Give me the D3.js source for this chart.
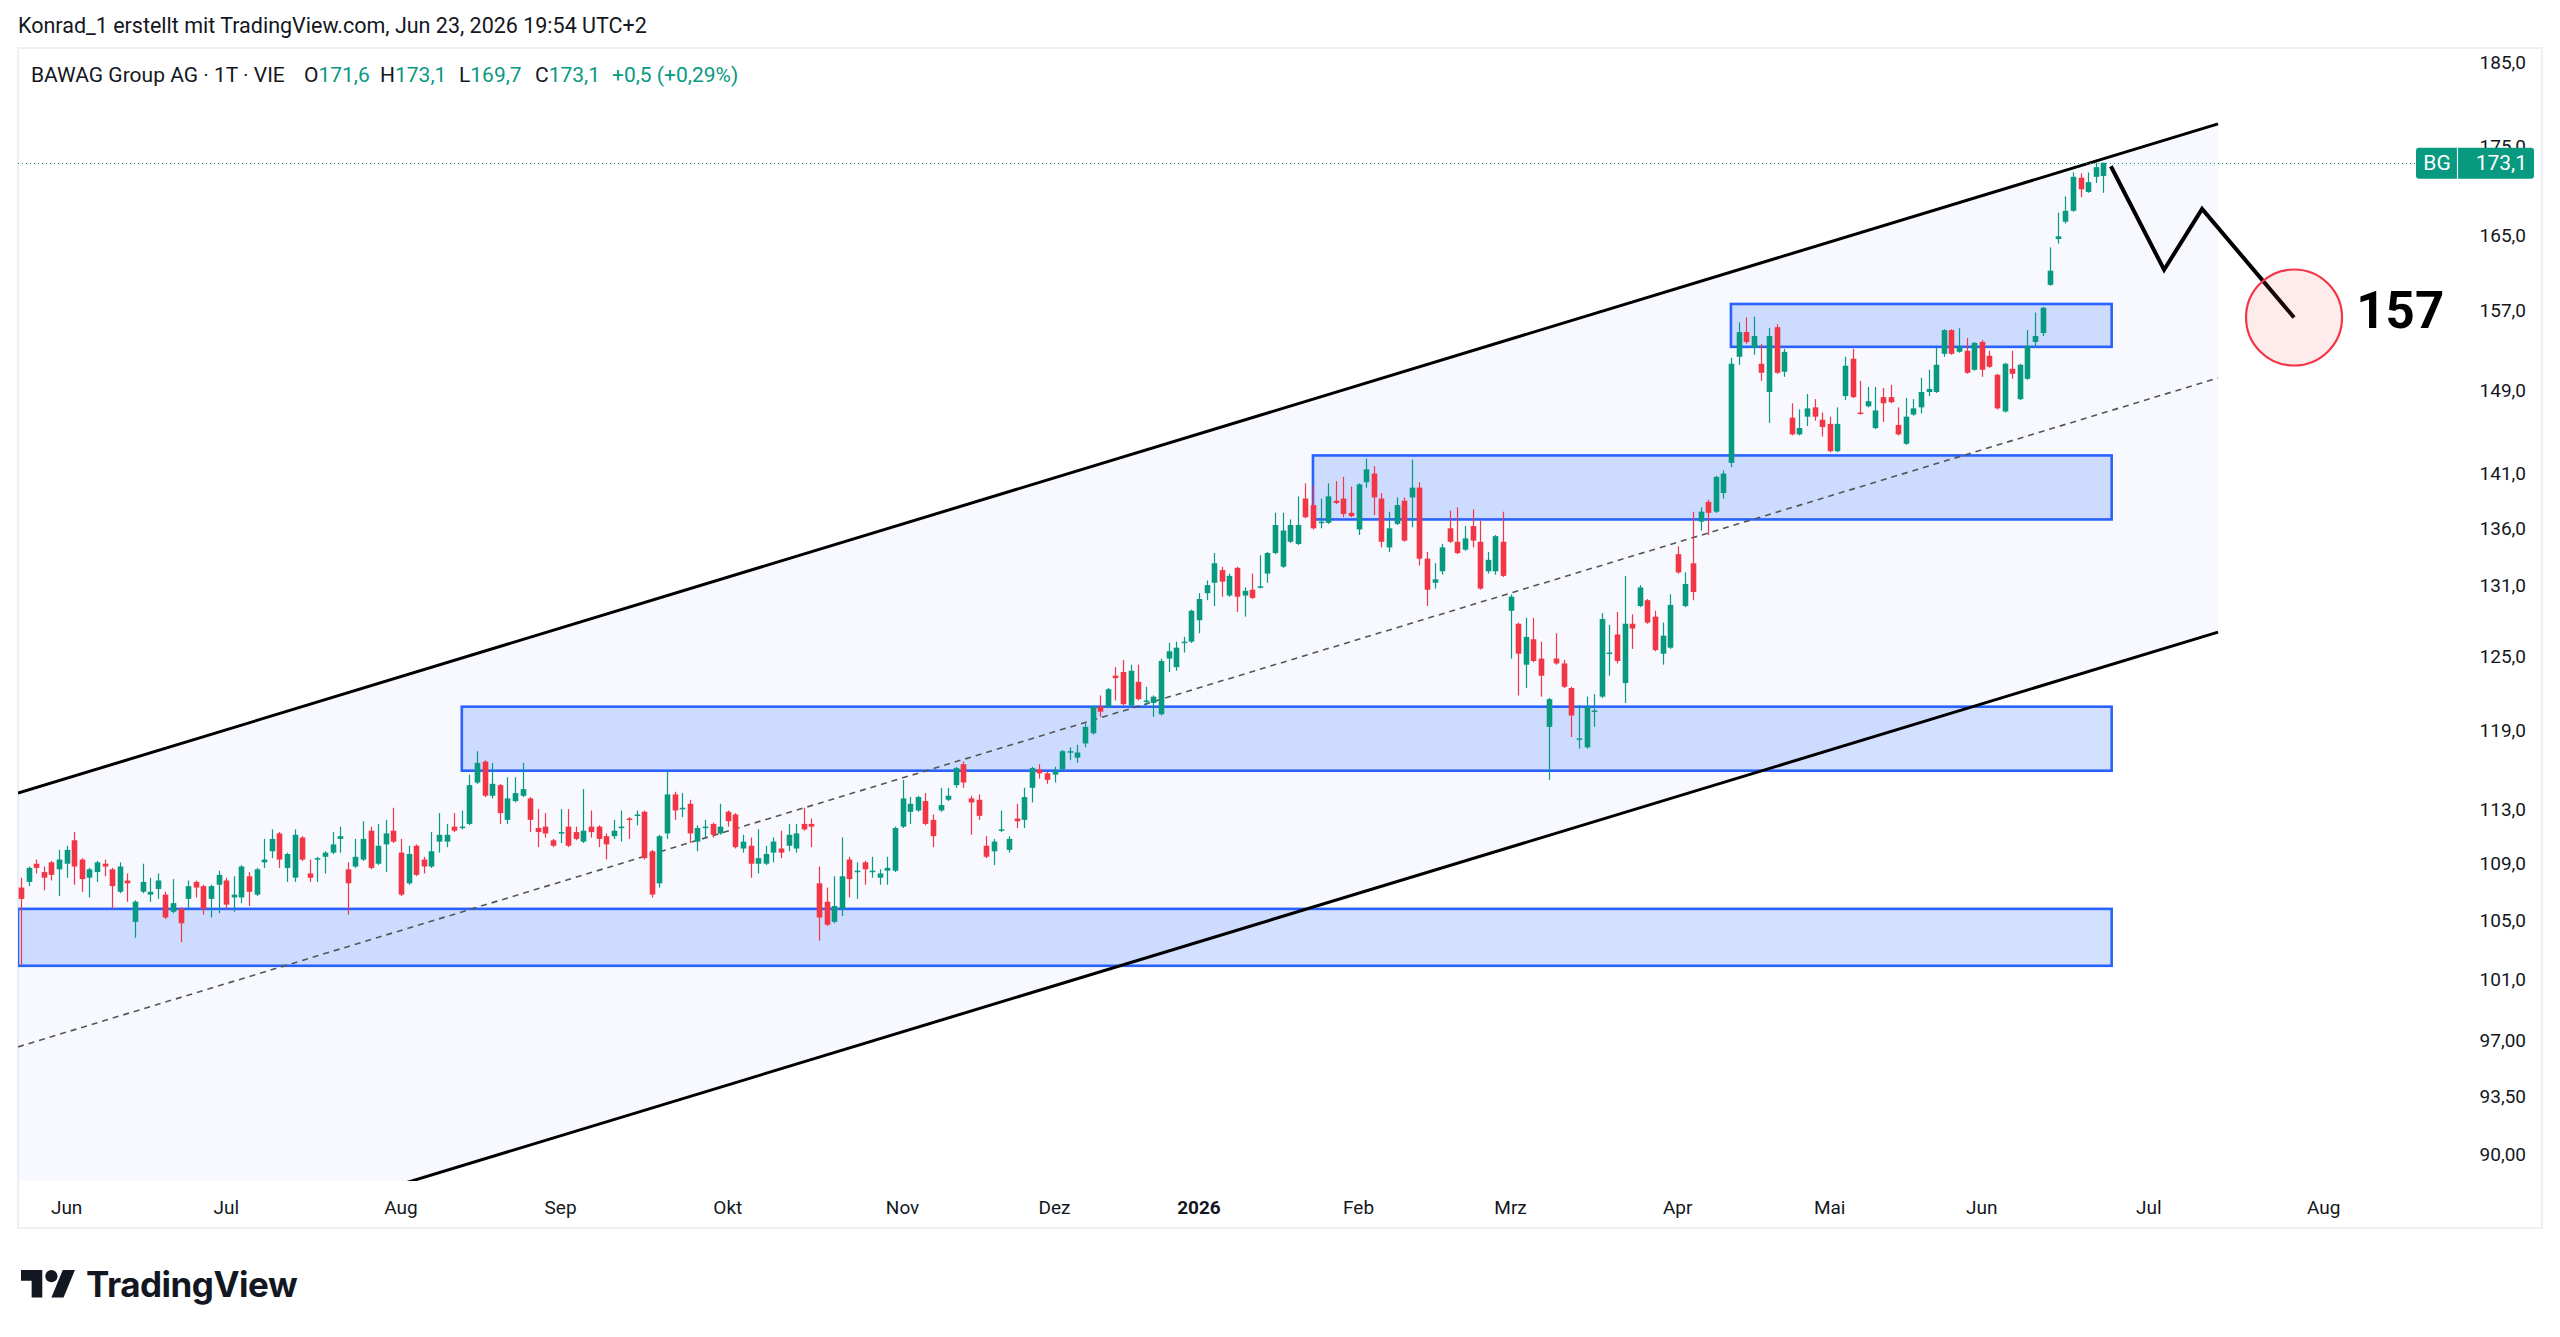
<!DOCTYPE html>
<html><head><meta charset="utf-8">
<script src="https://cdn.jsdelivr.net/npm/d3@7"></script>
<style>
body{margin:0;background:#fff;}
svg{display:block;}
text{font-family:"Trebuchet MS",Roboto,"Noto Sans",sans-serif;}
</style>
</head><body>
<svg id="chart" width="2560" height="1337"></svg>
<script>
// ---------------- DATA ----------------
const startDate = "2025-05-23";
const holidays = ["2025-12-24","2025-12-25","2025-12-26","2025-12-31","2026-01-01","2026-04-03","2026-04-06","2026-05-01"];

const open = [107.3,107.7,109.0,108.4,109.1,108.6,109.0,110.7,109.3,108.0,108.4,109.0,108.6,107.0,107.8,104.9,107.0,106.8,107.2,106.8,
105.6,105.8,106.5,107.7,107.4,106.5,107.5,107.8,106.6,106.6,108.1,106.8,109.1,109.9,111.2,108.7,108.0,110.9,108.3,109.3,
109.5,109.8,110.8,108.6,108.8,109.3,111.4,109.0,110.4,111.4,109.8,107.6,110.3,109.3,108.8,110.6,110.6,111.7,111.6,111.9,
115.0,116.6,114.0,114.8,112.2,113.6,114.0,113.8,111.6,111.7,110.7,111.2,111.7,111.3,110.6,111.7,111.7,111.0,111.0,111.6,
112.3,112.5,112.8,109.9,107.6,111.2,114.1,113.0,113.4,110.6,111.6,111.9,111.2,112.8,112.6,110.1,110.3,109.0,109.0,109.8,
110.1,110.3,110.1,111.9,111.9,107.6,106.3,104.9,105.8,109.3,108.4,109.1,108.4,108.0,108.5,108.5,111.7,112.8,112.9,113.6,
112.2,112.9,113.7,114.8,116.4,113.8,113.7,110.3,109.9,111.4,110.0,112.3,112.2,114.6,116.0,115.7,115.6,116.0,117.3,116.9,
118.0,118.8,120.9,120.9,123.4,123.7,121.0,122.9,121.3,121.2,120.3,124.8,124.1,126.1,126.2,128.0,130.3,131.2,132.3,130.1,
132.5,130.1,130.6,130.8,132.0,133.8,132.6,134.8,134.6,138.7,138.1,136.5,136.5,138.5,138.7,137.4,135.9,140.2,141.0,138.7,
134.3,136.4,138.5,138.8,139.7,133.3,131.2,132.2,136.0,134.8,134.1,136.2,134.8,132.2,132.2,134.8,128.8,127.7,124.3,126.4,
124.8,119.3,124.8,124.4,122.4,118.3,117.7,120.5,121.7,125.2,126.8,122.8,127.7,129.2,129.7,128.3,125.2,125.7,133.7,129.2,
132.9,136.6,138.4,137.5,139.2,142.0,152.3,154.8,153.2,151.6,148.8,155.3,150.8,146.3,144.7,146.4,147.3,146.1,145.7,143.1,
148.4,152.1,146.8,147.4,145.3,148.3,148.3,145.6,143.8,146.6,147.3,148.8,148.8,152.6,155.0,152.8,152.9,151.0,153.8,152.4,
150.5,146.9,151.1,148.1,150.1,153.8,154.7,159.7,164.6,166.5,167.7,171.4,169.8,171.5,171.6];
const high = [108.0,108.8,109.3,108.8,109.2,110.0,110.3,111.3,109.4,108.7,109.2,109.3,108.7,109.1,108.3,106.4,109.0,108.0,108.3,107.0,
107.9,105.9,107.8,107.8,107.5,107.5,108.5,108.0,108.1,108.9,108.4,108.7,110.8,111.5,111.3,109.8,111.5,111.0,109.3,109.5,
109.9,111.3,111.7,109.1,110.8,112.1,111.7,111.9,112.2,113.1,110.8,110.3,110.4,109.5,111.3,112.7,111.9,112.7,112.9,115.6,
117.4,116.7,116.5,114.9,115.4,115.4,116.5,113.9,113.0,112.7,110.8,113.0,113.0,111.7,114.5,112.9,111.8,111.2,112.2,112.9,
112.4,112.9,112.9,110.0,111.1,115.9,114.3,114.2,113.7,111.8,112.2,112.0,113.4,112.9,112.7,111.1,110.9,111.5,110.3,110.9,
111.4,111.9,111.9,113.1,112.3,108.8,107.3,108.1,110.9,109.5,109.1,109.2,109.5,108.6,109.5,111.7,115.2,113.9,114.0,114.2,
112.6,114.6,114.6,116.2,116.6,114.0,114.1,111.0,110.8,112.9,111.0,113.4,114.6,116.2,116.4,115.8,116.2,117.5,117.7,117.9,
119.6,121.0,121.8,122.4,124.1,124.7,124.3,124.3,122.5,121.8,124.8,126.1,126.2,126.6,128.9,130.3,131.4,133.8,132.6,132.0,
132.6,130.8,132.0,133.6,133.9,137.4,137.4,136.8,138.9,140.1,139.9,138.7,140.1,140.3,140.7,139.8,140.1,142.4,141.7,139.2,
137.5,138.8,138.8,142.3,140.2,133.9,132.9,134.6,137.6,137.9,136.2,137.7,136.7,133.9,135.4,137.5,130.2,127.8,128.2,128.2,
126.2,121.6,126.9,124.7,122.5,121.0,121.7,121.9,128.6,127.6,128.7,131.8,128.5,131.0,129.8,128.8,127.8,130.2,134.4,132.1,
137.5,137.9,138.6,140.8,141.3,152.2,155.8,156.3,156.4,153.6,155.2,155.6,153.1,147.7,147.1,148.6,148.1,146.8,146.4,147.3,
152.3,153.1,149.9,149.3,149.3,149.2,149.5,147.3,148.2,148.1,150.2,151.0,153.2,155.1,155.1,155.2,154.2,153.8,154.0,152.9,
150.6,151.7,152.9,151.6,155.0,156.8,157.4,163.7,167.5,169.3,172.0,171.9,172.0,173.1,173.1];
const low = [101.9,107.4,108.3,107.1,107.8,106.7,108.0,107.5,107.0,106.6,107.7,108.1,105.8,106.9,106.3,103.8,106.9,106.3,106.5,105.1,
105.5,103.5,105.8,106.6,105.4,105.2,105.5,105.8,105.6,106.2,106.0,106.7,108.7,109.4,108.7,107.7,107.7,109.2,107.7,107.7,
108.3,109.7,109.8,105.4,108.7,109.2,108.6,108.9,108.4,110.5,106.7,107.5,108.1,108.3,108.7,109.8,110.2,111.3,111.5,111.8,
114.9,113.9,113.8,111.9,111.9,113.5,113.9,111.3,110.2,110.9,110.2,110.5,110.2,110.7,110.5,110.9,110.2,109.3,110.8,110.6,
110.8,111.8,109.3,106.6,107.3,110.8,112.2,112.4,110.5,109.9,110.9,110.9,111.1,111.7,110.1,109.8,108.0,108.3,108.9,109.1,
109.4,109.9,109.8,111.4,110.2,103.6,104.6,104.8,105.3,106.6,106.5,107.5,108.0,107.5,107.5,108.4,111.6,111.9,112.8,111.8,
110.2,112.8,113.6,114.6,114.6,111.1,112.2,109.4,108.9,111.3,109.8,111.6,111.6,113.5,115.3,114.9,115.0,115.9,116.7,116.5,
117.7,118.7,120.1,120.8,121.4,121.0,120.9,121.4,121.0,120.1,120.2,123.7,123.8,125.3,126.1,126.9,129.7,129.2,130.0,130.0,
128.7,128.3,129.8,130.7,131.2,133.7,132.5,134.7,134.5,136.9,135.9,136.0,136.4,138.2,137.0,137.0,135.4,139.7,137.2,134.3,
133.9,136.3,134.8,136.1,132.7,129.2,130.7,131.9,134.7,133.7,134.0,134.3,130.6,132.0,131.9,131.7,124.8,121.8,122.4,124.5,
121.7,115.2,124.3,122.4,118.5,117.6,117.6,119.3,121.6,123.4,124.4,121.2,125.6,129.1,127.7,125.4,124.3,125.6,132.0,129.1,
129.7,135.8,135.4,137.4,138.7,141.6,151.5,153.6,152.5,149.9,145.8,150.6,150.3,144.6,144.6,145.5,146.0,144.5,143.0,143.0,
148.0,148.2,146.6,147.3,145.2,145.9,147.7,144.6,143.7,146.5,146.7,148.4,148.7,152.3,152.5,152.7,150.6,150.9,150.3,151.2,
147.1,146.8,150.1,148.0,150.0,153.2,154.4,159.6,164.1,166.3,167.6,169.2,169.7,170.8,169.7];
const close = [106.5,108.7,108.7,108.0,108.2,109.3,110.0,108.8,107.9,108.6,109.1,108.8,107.4,108.8,107.6,106.3,107.7,107.0,107.8,105.2,
106.2,104.8,107.4,107.3,105.8,107.4,108.2,106.1,106.8,108.8,107.0,108.6,109.3,110.8,109.3,109.7,111.1,109.3,108.0,109.4,
109.8,110.4,111.0,107.6,109.5,110.8,108.7,110.3,111.2,110.6,106.8,109.7,108.2,108.8,109.9,111.1,111.1,111.4,111.7,114.8,
116.5,114.0,114.9,112.7,113.8,114.2,114.5,112.2,111.3,111.2,110.3,111.3,110.3,110.8,111.4,111.3,110.8,110.4,111.4,111.7,
112.2,112.6,109.4,106.8,111.0,114.1,112.9,113.1,111.2,111.6,111.7,111.1,111.7,112.1,110.2,110.6,109.0,109.4,109.7,110.6,
109.8,111.1,111.2,111.5,111.7,105.2,104.7,106.0,108.1,107.9,108.5,108.6,108.5,108.3,108.7,111.6,113.8,113.4,113.9,111.9,
111.0,113.3,114.0,116.1,115.0,113.5,112.5,109.5,110.6,111.5,110.8,112.1,113.9,116.1,115.7,115.2,115.9,117.4,117.4,117.3,
119.3,120.9,120.5,122.3,123.2,121.1,123.8,121.5,121.4,121.7,124.6,125.4,125.7,126.2,128.8,129.8,131.0,132.9,131.3,131.8,
130.0,130.5,129.9,130.9,133.8,136.3,135.8,136.3,136.3,137.0,136.0,136.6,138.9,138.3,137.3,137.1,140.0,141.4,138.8,134.8,
136.0,138.1,134.9,139.7,133.3,130.6,131.5,134.3,134.8,133.8,135.1,134.9,130.7,133.2,135.3,131.8,130.0,125.2,126.6,124.6,
123.4,121.5,124.4,122.5,120.2,118.4,120.9,120.6,128.1,125.3,124.6,127.7,127.3,130.8,127.8,125.5,126.7,129.3,132.1,131.1,
130.4,137.5,137.4,140.7,141.0,151.6,154.8,153.8,154.4,150.7,154.4,150.7,152.8,144.7,145.3,147.2,146.4,145.4,143.1,145.7,
151.4,148.3,146.7,147.9,147.0,147.7,147.8,144.7,146.4,147.2,148.8,149.1,151.5,155.0,152.6,153.3,150.7,153.7,151.0,151.3,
147.2,151.6,150.6,151.5,153.4,154.4,157.3,161.2,164.9,167.7,171.5,170.1,170.9,172.6,173.1];

const monthTickDates  = ["2025-06-01","2025-07-01","2025-08-01","2025-09-01","2025-10-01","2025-11-01","2025-12-01","2026-01-01","2026-02-01","2026-03-01","2026-04-01","2026-05-01","2026-06-01","2026-07-01","2026-08-01"];
const monthTickLabels = ["Jun","Jul","Aug","Sep","Okt","Nov","Dez","2026","Feb","Mrz","Apr","Mai","Jun","Jul","Aug"];
const priceTicks      = [185,175,165,157,149,141,136,131,125,119,113,109,105,101,97,93.5,90];
const priceTickLabels = ["185,0","175,0","165,0","157,0","149,0","141,0","136,0","131,0","125,0","119,0","113,0","109,0","105,0","101,0","97,00","93,50","90,00"];

// drawings (bar index, price)
const channelIdx   = [-0.4, 289.1];
const channelUpper = [114.2, 177.6];
const channelLower = [81.7, 127.0];
const zoneStartIdx = [-0.4, 58.0, 170.0, 225.0];
const zoneEndIdx   = [275.1, 275.1, 275.1, 275.1];
const zoneTop      = [105.8, 120.9, 142.7, 157.7];
const zoneBottom   = [101.9, 115.9, 136.8, 153.3];
const pathIdx      = [275.0, 282.0, 287.0, 299.1];
const pathPrice    = [172.7, 161.3, 167.9, 156.3];
const targetIdx = 299.1, targetPrice = 156.3, targetLabel = "157", targetLabelIdx = 307.3;
const lastPrice = 173.1, symbol = "BG";

// ---------------- BUILD ----------------
function parseUTC(s){const [y,m,d]=s.split("-").map(Number);return new Date(Date.UTC(y,m-1,d));}
function fmt(d){return d.toISOString().slice(0,10);}
const hol = new Set(holidays);
const dates = [];
{ let d = parseUTC(startDate);
  while (dates.length < 330) {
    const wd = d.getUTCDay();
    if (wd !== 0 && wd !== 6 && !hol.has(fmt(d))) dates.push(new Date(d));
    d = new Date(d.getTime() + 86400000);
  }
}
const bars = open.map((o,i)=>({i, o, h:high[i], l:low[i], c:close[i]}));

const GREEN = "#089981", RED = "#f23645", TXT = "#131722";
const svg = d3.select("#chart");
const plot = {x0:18, x1:2462, y0:49, y1:1181};

const x = d3.scaleLinear().domain([-0.4, 321.2]).range([18, 2462]);
const y = d3.scaleLog().domain([90, 185]).range([1154, 62]);

svg.append("rect").attr("width",2560).attr("height",1337).attr("fill","#fff");
svg.append("defs").append("clipPath").attr("id","clip").append("rect")
  .attr("x",plot.x0).attr("y",plot.y0).attr("width",plot.x1-plot.x0).attr("height",plot.y1-plot.y0);

// frame
svg.append("rect").attr("x",18).attr("y",48).attr("width",2524).attr("height",1180)
  .attr("fill","none").attr("stroke","#eeeff2").attr("stroke-width",2);

const g = svg.append("g").attr("clip-path","url(#clip)");

// channel
const lnInterp = (a,b,t)=>Math.exp(Math.log(a)+(Math.log(b)-Math.log(a))*t);
const chanPts = [0,1].map(t=>({i:channelIdx[0]+(channelIdx[1]-channelIdx[0])*t, u:lnInterp(channelUpper[0],channelUpper[1],t), l:lnInterp(channelLower[0],channelLower[1],t)}));
g.append("path").attr("d", d3.line()([
   [x(chanPts[0].i), y(chanPts[0].u)], [x(chanPts[1].i), y(chanPts[1].u)],
   [x(chanPts[1].i), y(chanPts[1].l)], [x(chanPts[0].i), y(chanPts[0].l)]]) + "Z")
  .attr("fill","rgba(41,98,255,0.035)");

// zones
zoneTop.forEach((t,k)=>{
  g.append("rect").attr("x",x(zoneStartIdx[k])).attr("y",y(t))
   .attr("width",x(zoneEndIdx[k])-x(zoneStartIdx[k])).attr("height",y(zoneBottom[k])-y(t))
   .attr("fill","rgba(41,98,255,0.2)").attr("stroke","#2962ff").attr("stroke-width",2.6);
});

// midline
g.append("line")
  .attr("x1",x(chanPts[0].i)).attr("y1",y(Math.sqrt(chanPts[0].u*chanPts[0].l)))
  .attr("x2",x(chanPts[1].i)).attr("y2",y(Math.sqrt(chanPts[1].u*chanPts[1].l)))
  .attr("stroke","#555").attr("stroke-width",1.6).attr("stroke-dasharray","6,5");

// last price dotted line
svg.append("line").attr("x1",plot.x0).attr("x2",2416).attr("y1",Math.round(y(lastPrice))+0.5).attr("y2",Math.round(y(lastPrice))+0.5)
  .attr("stroke",GREEN).attr("stroke-width",1).attr("stroke-dasharray","1,3");

// candles
const bw = 5.6;
const cg = g.append("g");
cg.selectAll("line.wick").data(bars).join("line")
  .attr("x1",d=>Math.round(x(d.i))+0.5).attr("x2",d=>Math.round(x(d.i))+0.5)
  .attr("y1",d=>y(d.h)).attr("y2",d=>y(d.l))
  .attr("stroke",d=>d.c>=d.o?GREEN:RED).attr("stroke-width",1.2);
cg.selectAll("rect.body").data(bars).join("rect")
  .attr("x",d=>Math.round(x(d.i))+0.5-bw/2)
  .attr("y",d=>y(Math.max(d.o,d.c)))
  .attr("width",bw)
  .attr("height",d=>Math.max(1.5, y(Math.min(d.o,d.c))-y(Math.max(d.o,d.c))))
  .attr("fill",d=>d.c>=d.o?GREEN:RED);

// channel border lines
[channelUpper, channelLower].forEach(arr=>{
  g.append("line").attr("x1",x(channelIdx[0])).attr("y1",y(arr[0]))
   .attr("x2",x(channelIdx[1])).attr("y2",y(arr[1]))
   .attr("stroke","#000").attr("stroke-width",3);
});

// projection path
svg.append("path").attr("d", d3.line()(pathIdx.map((v,k)=>[x(v), y(pathPrice[k])])))
  .attr("fill","none").attr("stroke","#000").attr("stroke-width",4).attr("stroke-linejoin","miter");
svg.append("circle").attr("cx",x(targetIdx)).attr("cy",y(targetPrice)).attr("r",48)
  .attr("fill","rgba(242,54,69,0.1)").attr("stroke",RED).attr("stroke-width",2.2);
svg.append("text").attr("x",x(targetLabelIdx)).attr("y",y(157)+17)
  .attr("font-size",51).attr("font-weight",700).attr("fill","#000").text(targetLabel);

// y axis labels
svg.append("g").selectAll("text").data(priceTicks).join("text")
  .attr("x",2526).attr("y",d=>y(d)).attr("dy","0.35em").attr("text-anchor","end")
  .attr("font-size",19).attr("fill",TXT).text((d,k)=>priceTickLabels[k]);

// BG last-price label
{ const yc = y(lastPrice);
  const lab = svg.append("g");
  lab.append("rect").attr("x",2416).attr("y",yc-15).attr("width",118).attr("height",31).attr("rx",3).attr("fill",GREEN);
  lab.append("line").attr("x1",2457.5).attr("x2",2457.5).attr("y1",yc-15).attr("y2",yc+16).attr("stroke","#e6f5f2").attr("stroke-width",1.2);
  lab.append("text").attr("x",2437).attr("y",yc).attr("dy","0.36em").attr("text-anchor","middle").attr("font-size",21).attr("fill","#fff").text(symbol);
  lab.append("text").attr("x",2527).attr("y",yc).attr("dy","0.36em").attr("text-anchor","end").attr("font-size",21).attr("fill","#fff").text(String(lastPrice).replace(".",","));
}

// x axis labels
const idxOf = ds => { const t = parseUTC(ds).getTime(); return dates.findIndex(d=>d.getTime()>=t); };
svg.append("g").selectAll("text").data(monthTickDates).join("text")
  .attr("x",d=>x(idxOf(d))).attr("y",1214).attr("text-anchor","middle")
  .attr("font-size",19).attr("fill",TXT)
  .attr("font-weight",(d,k)=>monthTickLabels[k]==="2026"?700:400)
  .text((d,k)=>monthTickLabels[k]);

// header
svg.append("text").attr("x",18).attr("y",33).attr("font-size",21.5).attr("fill",TXT)
  .text("Konrad_1 erstellt mit TradingView.com, Jun 23, 2026 19:54 UTC+2");
const lastBar = bars[bars.length-1], prevClose = close[close.length-2];
const f1 = v=>v.toFixed(1).replace(".",",");
const hdr = svg.append("text").attr("y",82).attr("font-size",21).attr("fill",TXT);
hdr.append("tspan").attr("x",31).text("BAWAG Group AG · 1T · VIE");
[["O",lastBar.o,304],["H",lastBar.h,380],["L",lastBar.l,459],["C",lastBar.c,535]].forEach(([k,v,px])=>{
  hdr.append("tspan").attr("x",px).text(k);
  hdr.append("tspan").attr("fill",GREEN).text(f1(v));
});
const ch = lastBar.c - prevClose;
hdr.append("tspan").attr("x",612).attr("fill",GREEN)
  .text("+"+f1(ch)+" (+"+(ch/prevClose*100).toFixed(2).replace(".",",")+"%)");

// logo
const logo = svg.append("g").attr("transform","translate(21,1264) scale(1.52)").attr("fill",TXT);
logo.append("path").attr("d","M14 22H7V11H0V4h14v18zM28 22h-8l7.5-18h8L28 22z");
logo.append("circle").attr("cx",20).attr("cy",8).attr("r",4);
svg.append("text").attr("x",86).attr("y",1297).attr("font-size",35).attr("font-weight",700)
  .attr("fill",TXT).attr("letter-spacing","-0.5").style("font-family","Inter,Roboto,sans-serif").text("TradingView");
</script>
</body></html>
